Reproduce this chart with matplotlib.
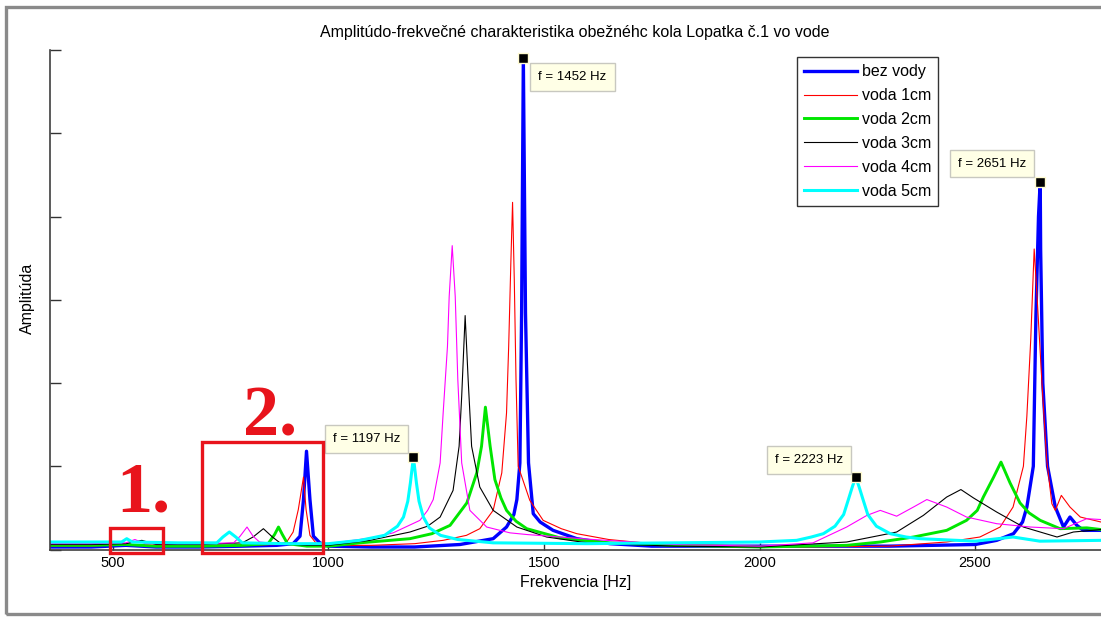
import numpy as np
import matplotlib
matplotlib.use("Agg")
import matplotlib.pyplot as plt
from matplotlib.patches import Rectangle

plt.rcParams['font.family'] = ['Liberation Sans', 'DejaVu Sans']

W, H = 1101, 617

# frekvencie [Hz] a amplitudy odcitane z grafu
f_bez = [354, 450, 530, 600, 700, 800, 880, 918, 934, 942, 949, 957, 965, 980, 1000, 1100, 1200, 1305,
         1382, 1413, 1430, 1437, 1444, 1448, 1452, 1457, 1464, 1475, 1491, 1521, 1576, 1653, 1750, 1900,
         2100, 2300, 2500, 2550, 2589, 2610, 2620, 2635, 2641, 2647, 2651, 2652, 2657, 2668, 2686, 2705,
         2720, 2736, 2751, 2792]
a_bez = [0.03, 0.03, 0.05, 0.03, 0.03, 0.04, 0.05, 0.07, 0.16, 0.6, 1.18, 0.6, 0.16, 0.08, 0.04, 0.03, 0.03, 0.06,
         0.13, 0.27, 0.42, 0.6, 1.04, 2.84, 5.9, 2.84, 1.04, 0.43, 0.33, 0.23, 0.13, 0.07, 0.04, 0.04,
         0.04, 0.04, 0.06, 0.11, 0.19, 0.33, 0.51, 1.0, 2.8, 4.0, 4.42, 3.6, 2.0, 1.0, 0.51, 0.27,
         0.39, 0.29, 0.23, 0.23]

f_1cm = [354, 450, 530, 600, 700, 800, 880, 903, 918, 930, 942, 948, 957, 972, 1000, 1100, 1200, 1266,
         1320, 1351, 1382, 1402, 1413, 1418, 1423, 1427, 1431, 1435, 1440, 1448, 1467, 1498, 1540, 1576,
         1650, 1750, 1900, 2100, 2300, 2434, 2511, 2558, 2588, 2612, 2620, 2629, 2637, 2645, 2655, 2666,
         2678, 2686, 2700, 2720, 2744, 2792]
a_1cm = [0.04, 0.04, 0.06, 0.05, 0.04, 0.05, 0.06, 0.09, 0.21, 0.48, 0.87, 0.48, 0.17, 0.07, 0.05, 0.05, 0.07, 0.11,
         0.17, 0.25, 0.47, 0.92, 1.64, 2.44, 3.44, 4.17, 3.24, 2.04, 1.0, 0.88, 0.59, 0.35, 0.25, 0.19,
         0.12, 0.07, 0.04, 0.03, 0.04, 0.09, 0.15, 0.27, 0.51, 1.0, 1.6, 2.52, 3.61, 2.92, 2.0, 1.08,
         0.55, 0.47, 0.65, 0.51, 0.39, 0.33]

f_2cm = [354, 450, 530, 600, 700, 800, 860, 875, 884, 893, 905, 950, 1000, 1073, 1189, 1240, 1282, 1321,
         1344, 1355, 1364, 1375, 1386, 1400, 1413, 1435, 1460, 1537, 1650, 1800, 2000, 2202, 2280, 2357,
         2434, 2480, 2505, 2519, 2543, 2560, 2581, 2604, 2625, 2651, 2697, 2759, 2792]
a_2cm = [0.05, 0.05, 0.06, 0.04, 0.04, 0.05, 0.07, 0.18, 0.27, 0.18, 0.07, 0.04, 0.04, 0.08, 0.13, 0.19, 0.29, 0.56,
         0.92, 1.24, 1.71, 1.24, 0.84, 0.62, 0.47, 0.34, 0.25, 0.14, 0.08, 0.05, 0.03, 0.05, 0.09, 0.15,
         0.23, 0.35, 0.47, 0.63, 0.87, 1.05, 0.80, 0.56, 0.44, 0.35, 0.25, 0.26, 0.24]

f_3cm = [354, 450, 530, 567, 600, 700, 800, 825, 849, 870, 890, 950, 1000, 1096, 1189, 1230, 1259, 1289,
         1303, 1309, 1317, 1324, 1332, 1351, 1382, 1437, 1506, 1600, 1800, 2000, 2202, 2280, 2318, 2380,
         2434, 2467, 2496, 2550, 2612, 2690, 2728, 2792]
a_3cm = [0.06, 0.06, 0.07, 0.11, 0.06, 0.06, 0.08, 0.15, 0.25, 0.15, 0.07, 0.05, 0.05, 0.11, 0.21, 0.28, 0.39, 0.71,
         1.24, 1.84, 2.81, 2.04, 1.24, 0.75, 0.47, 0.27, 0.15, 0.08, 0.04, 0.03, 0.09, 0.17, 0.21, 0.41,
         0.63, 0.72, 0.62, 0.45, 0.27, 0.15, 0.21, 0.24]

f_4cm = [354, 450, 530, 551, 575, 700, 780, 795, 811, 825, 840, 900, 1000, 1100, 1150, 1212, 1230, 1243,
         1259, 1266, 1276, 1280, 1287, 1294, 1300, 1309, 1328, 1367, 1421, 1460, 1614, 1800, 2000, 2124,
         2202, 2249, 2280, 2318, 2357, 2388, 2434, 2480, 2550, 2628, 2705, 2759, 2792]
a_4cm = [0.07, 0.07, 0.08, 0.12, 0.07, 0.07, 0.08, 0.16, 0.27, 0.16, 0.09, 0.06, 0.07, 0.14, 0.2, 0.35, 0.47, 0.6,
         1.04, 1.64, 2.44, 3.04, 3.65, 3.04, 2.04, 1.04, 0.47, 0.27, 0.2, 0.18, 0.12, 0.06, 0.04, 0.08,
         0.27, 0.41, 0.47, 0.40, 0.51, 0.60, 0.51, 0.39, 0.31, 0.27, 0.25, 0.37, 0.36]

f_5cm = [354, 450, 520, 532, 545, 650, 741, 755, 770, 785, 800, 900, 1000, 1073, 1130, 1160, 1174, 1184,
         1190, 1197, 1204, 1210, 1220, 1234, 1260, 1300, 1382, 1600, 1800, 2000, 2086, 2120, 2148, 2175,
         2195, 2206, 2215, 2223, 2231, 2240, 2251, 2271, 2303, 2340, 2372, 2500, 2588, 2650, 2792]
a_5cm = [0.09, 0.09, 0.09, 0.13, 0.09, 0.08, 0.08, 0.15, 0.21, 0.15, 0.08, 0.07, 0.07, 0.11, 0.17, 0.28, 0.39, 0.58,
         0.8, 1.11, 0.8, 0.58, 0.39, 0.26, 0.17, 0.12, 0.08, 0.07, 0.08, 0.09, 0.11, 0.15, 0.19, 0.28,
         0.42, 0.6, 0.75, 0.87, 0.75, 0.6, 0.42, 0.28, 0.19, 0.15, 0.13, 0.1, 0.15, 0.1, 0.11]

labels = ['bez vody', 'voda 1cm', 'voda 2cm', 'voda 3cm', 'voda 4cm', 'voda 5cm']
colors = ['#0000ff', '#ff0000', '#00e600', '#000000', '#ff00ff', '#00ffff']
widths = [2.4, 0.8, 2.1, 0.8, 0.8, 2.2]
series = [(f_bez, a_bez), (f_1cm, a_1cm), (f_2cm, a_2cm), (f_3cm, a_3cm), (f_4cm, a_4cm), (f_5cm, a_5cm)]

# datatipy: (index serie, frekvencia)
tips = [(5, 1197), (0, 1452), (5, 2223), (0, 2651)]
tip_offsets = {1197: (-13, 12, 'right', 'bottom'), 1452: (15, -13, 'left', 'top'),
               2223: (-13, 11, 'right', 'bottom'), 2651: (-14, 12, 'right', 'bottom')}

fig = plt.figure(figsize=(W / 100, H / 100), dpi=100)
ax = fig.add_axes([50 / W, (H - 549.5) / H, 1 - 50 / W, (549.5 - 50) / H])

for (f, a), lab, c, lw in zip(series, labels, colors, widths):
    ax.plot(f, a, color=c, lw=lw, label=lab)

ax.set_xlim(354, 2792)
ax.set_ylim(0, 6)
ax.set_xticks([500, 1000, 1500, 2000, 2500])
ax.set_yticks([0, 1, 2, 3, 4, 5, 6])
ax.set_yticklabels([])
ax.tick_params(axis='y', direction='in', length=8, width=1, color='#333333')
ax.tick_params(axis='x', direction='in', length=5, width=1, color='#333333', pad=5, labelsize=10.5)
for s in ['top', 'right']:
    ax.spines[s].set_visible(False)
for s in ['left', 'bottom']:
    ax.spines[s].set_color('#404040')
    ax.spines[s].set_linewidth(1.2)

for si, fr in tips:
    f, a = series[si]
    k = f.index(fr)
    ax.plot(f[k], a[k], marker='s', ms=7, mfc='black', mec='#fffbd0', mew=1, zorder=10)
    dx, dy, ha, va = tip_offsets[fr]
    ax.annotate('f = %d Hz' % fr, (f[k], a[k]), xytext=(dx, dy), textcoords='offset pixels',
                ha=ha, va=va, fontsize=9.5, zorder=11,
                bbox=dict(boxstyle='square,pad=0.6', fc='#ffffe6', ec='#c8c8c0', lw=1))

leg = ax.legend(loc='upper left', bbox_to_anchor=(797 / W, 1 - 57 / H), bbox_transform=fig.transFigure,
                fancybox=False, frameon=True, edgecolor='black', fontsize=11.5, handlelength=3.3,
                handletextpad=0.3, labelspacing=0.56, borderpad=0.45, borderaxespad=0)
leg.get_frame().set_linewidth(1)

fig.text(575 / W, 1 - 32 / H, 'Amplitúdo-frekvečné charakteristika obežnéhc kola Lopatka č.1 vo vode',
         ha='center', va='center', fontsize=11.5)
fig.text(576 / W, 1 - 582 / H, 'Frekvencia [Hz]', ha='center', va='center', fontsize=11.5)
fig.text(27 / W, 1 - 298 / H, 'Amplitúda', ha='center', va='center', rotation=90, fontsize=11.5)

# cervene oznacenia oblasti
red = '#e8141c'
fig.text(116 / W, 1 - 511 / H, '1.', color=red, fontsize=52, fontweight='bold',
         family='Liberation Serif', ha='left', va='baseline')
fig.text(243 / W, 1 - 436 / H, '2.', color=red, fontsize=52, fontweight='bold',
         family='Liberation Serif', ha='left', va='baseline')
for x0, y0, x1, y1 in [(110, 528, 163, 553), (202, 442, 323, 553)]:
    fig.add_artist(Rectangle((x0 / W, 1 - y1 / H), (x1 - x0) / W, (y1 - y0) / H,
                             transform=fig.transFigure, fill=False, ec=red, lw=2.4, zorder=20))

# sedy ram okna
fig.add_artist(Rectangle((5.5 / W, 1 - 613.5 / H), 1.1, (613.5 - 6.5) / H, transform=fig.transFigure,
                         fill=False, ec='#8a8a8a', lw=2.4, zorder=30))

fig.savefig('out.png', dpi=100)
